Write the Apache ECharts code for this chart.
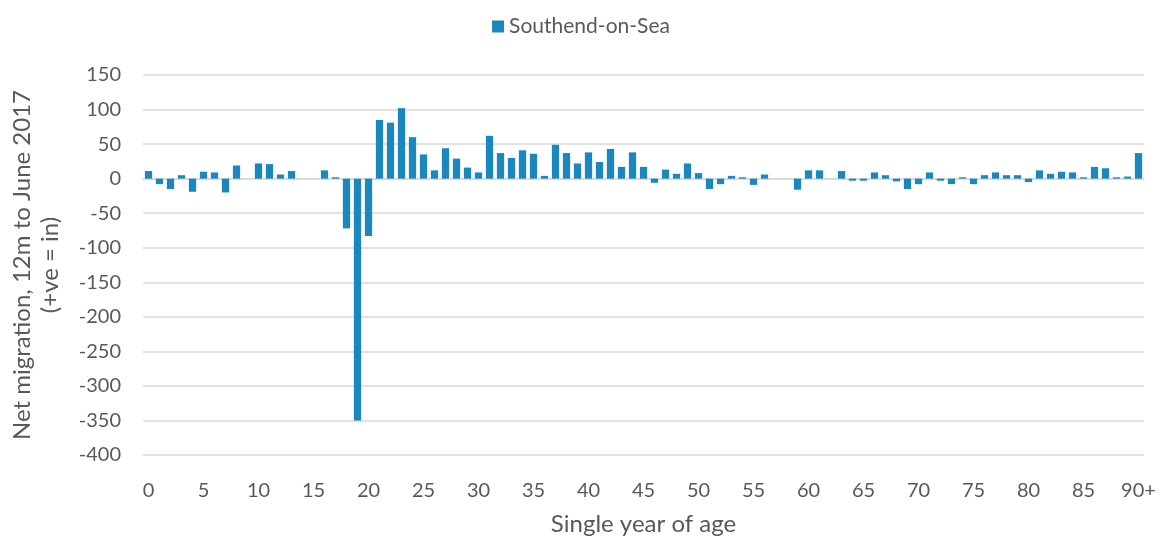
<!DOCTYPE html>
<html>
<head>
<meta charset="utf-8">
<script src="https://cdn.jsdelivr.net/npm/echarts@6/dist/echarts.min.js"></script>
<style>
  html, body { margin: 0; padding: 0; background: #fff; }
  #main { width: 1162px; height: 538px; }
</style>
</head>
<body>
<div id="main"></div>
<script>
// ages 0..89 and 90+
var ages = [];
for (var i = 0; i < 90; i++) ages.push(String(i));
ages.push('90+');

// net migration by single year of age
var netMigration = [
  11, -8, -15, 5, -19, 10, 9, -20, 19, 0,
  22, 21, 6, 11, 0, 0, 12, 2, -72, -350,
  -83, 85, 81, 102, 60, 35, 12, 44, 29, 16,
  9, 62, 37, 30, 41, 36, 4, 49, 37, 22,
  38, 24, 43, 17, 38, 17, -6, 13, 7, 22,
  8, -15, -8, 4, 2, -9, 6, 0, 0, -16,
  12, 12, 0, 11, -3, -3, 9, 5, -4, -15,
  -8, 9, -3, -8, 2, -8, 5, 9, 5, 5,
  -5, 12, 7, 10, 9, 2, 17, 15, 2, 3,
  37
];

var yTicks = { min: -400, max: 150, interval: 50 };

var myChart = echarts.init(document.getElementById('main'));

var textColor = '#595959';
var gridColor = '#d9d9d9';
var fontFamily = 'Lato, "Open Sans", sans-serif';

var option = {
  textStyle: { fontFamily: fontFamily },
  legend: {
    data: ['Southend-on-Sea'],
    top: 11,
    left: 'center',
    icon: 'rect',
    itemWidth: 12,
    itemHeight: 12,
    textStyle: { fontSize: 21, color: textColor, fontFamily: fontFamily }
  },
  grid: {
    left: 143,
    right: 18,
    top: 75,
    bottom: 83,
    outerBoundsMode: 'none'
  },
  xAxis: {
    type: 'category',
    data: ages,
    name: 'Single year of age',
    nameLocation: 'middle',
    nameGap: 57,
    nameTextStyle: { fontSize: 24, color: textColor, fontFamily: fontFamily },
    axisLine: { show: true, lineStyle: { color: gridColor, width: 1.5 } },
    axisTick: { show: false },
    axisLabel: {
      interval: 4,
      fontSize: 20,
      color: textColor,
      margin: 26,
      fontFamily: fontFamily
    }
  },
  yAxis: {
    type: 'value',
    min: yTicks.min,
    max: yTicks.max,
    interval: yTicks.interval,
    name: 'Net migration, 12m to June 2017\n(+ve = in)',
    nameLocation: 'middle',
    nameGap: 79,
    nameTextStyle: { fontSize: 24, color: textColor, lineHeight: 28, fontFamily: fontFamily },
    axisLine: { show: false },
    axisTick: { show: false },
    axisLabel: { fontSize: 20, color: textColor, margin: 22, fontFamily: fontFamily },
    splitLine: { lineStyle: { color: gridColor, width: 1.5 } }
  },
  series: [
    {
      name: 'Southend-on-Sea',
      type: 'bar',
      data: netMigration,
      barCategoryGap: '34%',
      itemStyle: { color: '#1a87bf' }
    }
  ]
};

myChart.setOption(option);
</script>
</body>
</html>
